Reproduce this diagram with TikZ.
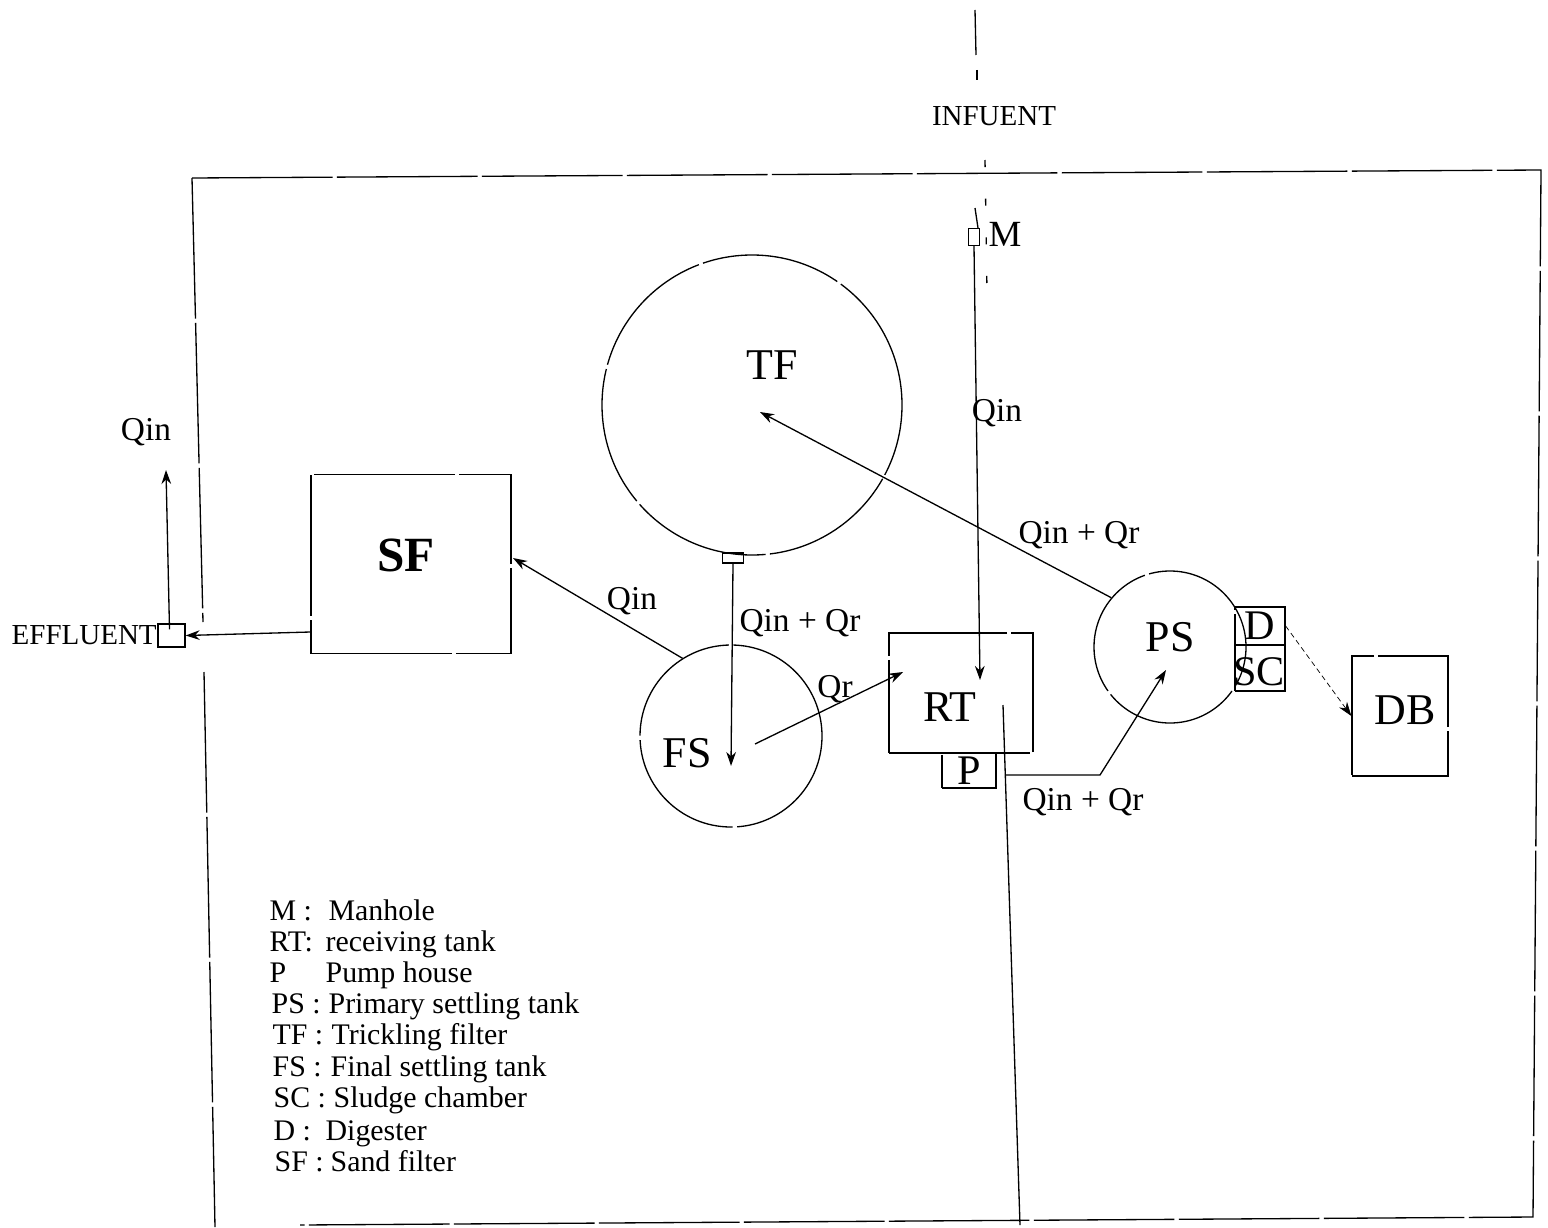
\documentclass[tikz,border=0pt]{standalone}
\usepackage{fontspec}
\setmainfont{Liberation Serif}
\usetikzlibrary{arrows.meta,positioning,calc}

\begin{document}
\begin{tikzpicture}[x=0.2mm, y=-0.2mm, >={Stealth[length=8pt,width=5.5pt]}, line width=0.75pt,
   broken/.style={dash pattern=on 80pt off 2.5pt},
   tank/.style={draw, broken, circle, inner sep=0pt},
   unit/.style={draw, broken, inner sep=0pt, font=\fontsize{24}{26}\selectfont},
   tag/.style={inner sep=0pt, font=\fontsize{19}{21}\selectfont},
   big/.style={inner sep=0pt, font=\fontsize{25}{27}\selectfont},
   legend/.style={inner sep=0pt, anchor=base west, font=\fontsize{17}{19}\selectfont}]
  \useasboundingbox (0,0) rectangle (1548,1227);

  \coordinate (nw) at (192,178);
  \coordinate (ne) at (1541,170);
  \coordinate (se) at (1533,1217);
  \coordinate (sw) at (215,1227);
  \draw[broken] (nw) -- (ne) -- (se) -- (300,1225);
  \draw[broken] (nw) -- (203,622);
  \draw[broken] (204,672) -- (sw);

  \node[tank, minimum size=60mm] (TF) at (752,405) {};
  \node[tank, minimum size=36.4mm] (FS) at (731,736) {};
  \node[tank, minimum size=30.4mm] (PS) at (1170,647) {};
  \node[big] at (772,365) {TF};
  \node[big] at (687,753) {FS};
  \node[big] at (1170,637) {PS};

  \node[unit, minimum width=40mm, minimum height=35.8mm] (SF) at (411,564) {};
  \node[inner sep=0pt, font=\fontsize{28}{30}\selectfont\bfseries] at (406,555) {SF};
  \node[unit, minimum width=28.8mm, minimum height=24mm] (RT) at (961,693) {};
  \node[big] at (950,707) {RT};
  \node[unit, minimum width=10.8mm, minimum height=7mm] (P) at (969,770.5) {P};
  \node[unit, minimum width=10mm, minimum height=7.6mm] (D) at (1260,626) {D};
  \node[unit, minimum width=10mm, minimum height=9.2mm] (SC) at (1260,668) {};
  \node[inner sep=0pt, font=\fontsize{24}{26}\selectfont] at (1259,672) {SC};
  \node[unit, minimum width=19.2mm, minimum height=24mm] (DB) at (1400,716) {};
  \node[big] at (1405,710) {DB};
  \node[draw, minimum width=2.2mm, minimum height=3.4mm, inner sep=0pt] (MH) at (974,237) {};
  \node[draw, minimum width=5.4mm, minimum height=4.6mm, inner sep=0pt] (EF) at (171.5,635.5) {};
  \node[draw, minimum width=4.2mm, minimum height=2mm, inner sep=0pt] (TFout) at (733,558) {};

  \node[inner sep=0pt, font=\fontsize{16.5}{18}\selectfont] (INF) at (994,116) {INFUENT};
  \node[inner sep=0pt, font=\fontsize{16.5}{18}\selectfont, left=0pt of EF.west] (EFL) {EFFLUENT};
  \node[big, font=\fontsize{21}{23}\selectfont] at (1005,234) {M};
  \node[tag] (Q1) at (146,432) {Qin};
  \node[tag] at (997,413) {Qin};
  \node[tag] at (632,601) {Qin};
  \node[tag] at (1079,535) {Qin + Qr};
  \node[tag] at (800,623) {Qin + Qr};
  \node[tag] at (835,689) {Qr};
  \node[tag] at (1083,802) {Qin + Qr};

  \coordinate (inftop) at (975,10);
  \coordinate (infend) at (977,80);
  \coordinate (inflow) at (985,160);
  \coordinate (rtin) at (980,680);
  \coordinate (tfin) at (760,412);
  \coordinate (fsin) at (731,766);
  \coordinate (fsout) at (755,744);
  \coordinate (rtleft) at (903,672);
  \coordinate (sfin) at (513,558);
  \coordinate (riser) at (1003,705);
  \coordinate (rbot) at (1020,1225);
  \coordinate (pout) at (1005,775);
  \coordinate (bend) at (1100,775);
  \coordinate (psin) at (1166,670);
  \coordinate (efup) at (166,470);

  \draw (inftop) -- (976,55);
  \draw (977,70) -- (infend);
  \draw[dash pattern=on 4pt off 18pt] (inflow) -- (987,292);
  \draw (975,208) -- (978,228);
  \draw[->] (MH.south) -- (rtin);
  \draw[->] (PS.140) -- (tfin);
  \draw[->] (FS.122) -- (sfin);
  \draw[->] (TFout.south) -- (fsin);
  \draw[->] (fsout) -- (rtleft);
  \draw (riser) -- (rbot);
  \draw[->] (pout) -- (bend) -- (psin);
  \draw[->] (SF.west |- 0,632) -- (EF.east);
  \draw[->] (EF.north) ++(-2,6) -- (efup);
  \draw[->, line width=0.4pt, densely dashed] (D.east) -- (DB.west);

  \foreach \i/\xa/\xb/\ypos/\keyname/\txt in {
      1/269/328/920/M :/Manhole,
      2/269/325/951/RT:/receiving tank,
      3/269/325/982/P/Pump house,
      4/271/328/1013/PS :/Primary settling tank,
      5/272/331/1044/TF :/Trickling filter,
      6/272/330/1076/FS :/Final settling  tank,
      7/273/333/1107/SC :/Sludge chamber,
      8/273/325/1140/D :/Digester,
      9/274/330/1171/SF :/Sand filter}{
    \node[legend] (key\i) at (\xa,\ypos) {\keyname};
    \node[legend] (txt\i) at (\xb,\ypos) {\txt};
  }
\end{tikzpicture}
\end{document}
